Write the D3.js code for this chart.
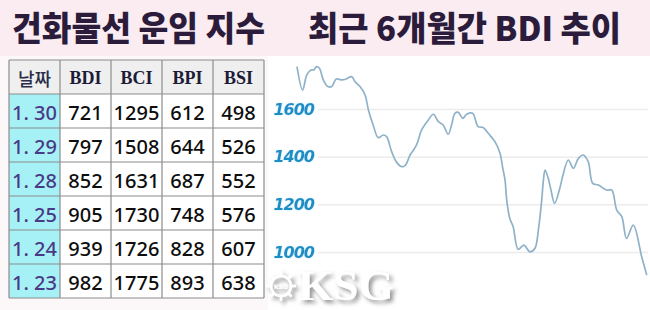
<!DOCTYPE html>
<html>
<head>
<meta charset="utf-8">
<script src="https://cdn.jsdelivr.net/npm/d3@7"></script>
<style>
  html, body { margin:0; padding:0; background:#fcf7f9; }
  svg { display:block; }
</style>
</head>
<body>
<div id="chart-area"></div>
<script>
// table data
var headers = ["날짜", "BDI", "BCI", "BPI", "BSI"];
var dates = ["1. 30", "1. 29", "1. 28", "1. 25", "1. 24", "1. 23"];
var bdi = [721, 797, 852, 905, 939, 982];
var bci = [1295, 1508, 1631, 1730, 1726, 1775];
var bpi = [612, 644, 687, 748, 828, 893];
var bsi = [498, 526, 552, 576, 607, 638];

// BDI trend, last 6 months (trading day index, value)
var bdiDays = [0, 2, 3.5, 5, 6, 7, 8, 9.4, 11, 12.4, 14, 16, 17.6, 19.5, 20.7, 22.5, 24.3, 25.5, 27.2, 29,
  30.8, 32, 33.8, 35.6, 37.4, 38.6, 40.4, 42.7, 44.5, 46.9, 48.7, 50.5, 52.2, 54, 55.2, 56.4, 57.6, 59.2,
  60.6, 62.7, 64.7, 66.5, 68.3, 70.7, 72.5, 73.5, 74.3, 74.9, 76, 77.2, 79, 81, 83.2, 85, 86.2, 87.4, 88,
  88.6, 89.7, 90.7, 92, 94, 95, 96.9, 98.7, 100.5, 102.2, 104, 105.6, 107.6, 110.6, 112.4, 114.2, 116,
  117.7, 120.1, 123.1, 124.9];
var bdiValues = [1778, 1680, 1743, 1764, 1764, 1778, 1771, 1722, 1694, 1694, 1726, 1722, 1726, 1736, 1715, 1694, 1659, 1596, 1533, 1480,
  1491, 1484, 1421, 1376, 1358, 1362, 1407, 1449, 1512, 1554, 1578, 1547, 1533, 1494, 1533, 1582, 1586, 1561,
  1578, 1582, 1526, 1522, 1498, 1463, 1414, 1351, 1302, 1218, 1141, 1106, 1011, 1029, 1001, 1016, 1092, 1218, 1302,
  1344, 1310, 1260, 1204, 1274, 1323, 1386, 1351, 1393, 1407, 1379, 1288, 1281, 1260, 1260, 1176, 1148,
  1057, 1113, 980, 903];
var yTicks = [1000, 1200, 1400, 1600];

var titleLeft = "건화물선 운임 지수";
var titleRight = "최근 6개월간 BDI 추이";

var width = 650, height = 310;

var svg = d3.select("#chart-area")
  .append("svg")
    .attr("width", width)
    .attr("height", height);

var defs = svg.append("defs");
defs.append("filter").attr("id", "shadow")
    .attr("x", "-20%").attr("y", "-30%").attr("width", "150%").attr("height", "170%")
  .append("feDropShadow")
    .attr("dx", 3).attr("dy", 3).attr("stdDeviation", 2)
    .attr("flood-color", "#666").attr("flood-opacity", 0.7);
defs.append("filter").attr("id", "glow")
  .append("feDropShadow")
    .attr("dx", 0).attr("dy", 0).attr("stdDeviation", 1.2)
    .attr("flood-color", "#bfe9ff").attr("flood-opacity", 0.9);
defs.append("clipPath").attr("id", "plotclip")
  .append("rect")
    .attr("x", 268).attr("y", 56).attr("width", 382).attr("height", 254);

// backgrounds
svg.append("rect")
    .attr("width", width).attr("height", 56)
    .attr("fill", "#fbecf2");
svg.append("rect")
    .attr("x", 268).attr("y", 56).attr("width", 382).attr("height", 254)
    .attr("fill", "#ffffff");

// titles
svg.append("text")
    .attr("x", 12).attr("y", 41)
    .attr("textLength", 253)
    .attr("lengthAdjust", "spacingAndGlyphs")
    .attr("font-family", "Noto Sans CJK KR")
    .attr("font-weight", 900)
    .attr("font-size", "34px")
    .attr("fill", "#2b1c3b")
    .text(titleLeft);
svg.append("text")
    .attr("x", 308).attr("y", 41)
    .attr("textLength", 313)
    .attr("lengthAdjust", "spacingAndGlyphs")
    .attr("font-family", "Noto Sans CJK KR")
    .attr("font-weight", 900)
    .attr("font-size", "34px")
    .attr("fill", "#2b1c3b")
    .text(titleRight);

// ---- line chart ----
var x = d3.scaleLinear()
    .domain([0, 125])
    .range([297, 647]);
var y = d3.scaleLinear()
    .domain([1000, 1600])
    .range([252, 109]);

var yAxisCall = d3.axisLeft(y)
    .tickValues(yTicks)
    .tickSize(-(648 - 318))
    .tickPadding(4)
    .tickFormat(function(d){ return d; });

var yAxis = svg.append("g")
    .attr("class", "y axis")
    .attr("transform", "translate(318,0)")
    .call(yAxisCall);
yAxis.select(".domain").remove();
yAxis.selectAll("line")
    .attr("stroke", "#ececec")
    .attr("stroke-width", 1.5);
yAxis.selectAll("text")
    .attr("font-family", "DejaVu Sans")
    .attr("font-weight", "bold")
    .attr("font-style", "italic")
    .attr("font-size", "16px")
    .attr("letter-spacing", "-1px")
    .attr("fill", "#1b8ec6")
    .attr("filter", "url(#glow)");

var points = bdiDays.map(function(d, i){ return [d, bdiValues[i]]; });

var line = d3.line()
    .x(function(d){ return x(d[0]); })
    .y(function(d){ return y(d[1]); })
    .curve(d3.curveCatmullRom.alpha(0.5));

svg.append("path")
    .datum(points)
    .attr("clip-path", "url(#plotclip)")
    .attr("fill", "none")
    .attr("stroke", "#8fb2c9")
    .attr("stroke-width", 1.7)
    .attr("d", line);

// watermark
var wm = svg.append("g").attr("filter", "url(#shadow)");
var wheel = wm.append("g").attr("transform", "translate(281,286)");
d3.range(8).forEach(function(i){
  var a = i * Math.PI / 4;
  wheel.append("line")
      .attr("x1", Math.cos(a) * 9).attr("y1", Math.sin(a) * 9)
      .attr("x2", Math.cos(a) * 15).attr("y2", Math.sin(a) * 15)
      .attr("stroke", "#fff").attr("stroke-width", 2.5);
});
wheel.append("circle").attr("r", 10)
    .attr("fill", "none").attr("stroke", "#fff").attr("stroke-width", 2.5);
wheel.append("text")
    .attr("text-anchor", "middle").attr("y", 2.5)
    .attr("font-family", "DejaVu Sans").attr("font-weight", "bold")
    .attr("font-size", "6px").attr("fill", "#fff")
    .text("KSG");
wm.append("text")
    .attr("x", 298).attr("y", 300)
    .attr("textLength", 96)
    .attr("lengthAdjust", "spacingAndGlyphs")
    .attr("font-family", "Liberation Serif")
    .attr("font-weight", "bold")
    .attr("font-size", "42px")
    .attr("fill", "#ffffff")
    .text("KSG");

// ---- table ----
var rowKeys = ["head"].concat(dates);
var cols = d3.scaleBand()
    .domain(headers)
    .range([9, 264]);
var rows = d3.scaleBand()
    .domain(rowKeys)
    .range([60, 298]);

var tableRows = dates.map(function(d, i){
  return [d, bdi[i], bci[i], bpi[i], bsi[i]];
});

var table = svg.append("g").attr("class", "table");

// header
headers.forEach(function(h, j){
  table.append("rect")
      .attr("x", cols(h)).attr("y", rows("head"))
      .attr("width", cols.bandwidth()).attr("height", rows.bandwidth())
      .attr("fill", "#efefef");
  table.append("text")
      .attr("x", cols(h) + cols.bandwidth() / 2)
      .attr("y", rows("head") + rows.bandwidth() / 2 + 1)
      .attr("text-anchor", "middle")
      .attr("dominant-baseline", "central")
      .attr("font-family", j === 0 ? "Noto Sans CJK KR" : "Liberation Serif")
      .attr("font-weight", j === 0 ? 500 : "bold")
      .attr("font-size", j === 0 ? "18px" : "18px")
      .attr("fill", j === 0 ? "#2a2d4a" : "#1c1c38")
      .text(h);
});

tableRows.forEach(function(r){
  r.forEach(function(v, j){
    var h = headers[j];
    table.append("rect")
        .attr("x", cols(h)).attr("y", rows(r[0]))
        .attr("width", cols.bandwidth()).attr("height", rows.bandwidth())
        .attr("fill", j === 0 ? "#a6f1f6" : "#ffffff");
    table.append("text")
        .attr("x", cols(h) + cols.bandwidth() / 2)
        .attr("y", rows(r[0]) + rows.bandwidth() / 2 + 1)
        .attr("text-anchor", "middle")
        .attr("dominant-baseline", "central")
        .attr("font-family", "Noto Sans")
        .attr("font-weight", j === 0 ? 500 : 500)
        .attr("font-size", "20px")
        .attr("fill", j === 0 ? "#4a3a86" : "#0d0d0d")
        .text(v);
  });
});

// grid lines of the table
table.selectAll(".vline").data(headers.concat(["end"]))
  .enter().append("line")
    .attr("x1", function(d){ return d === "end" ? 264 : cols(d); })
    .attr("x2", function(d){ return d === "end" ? 264 : cols(d); })
    .attr("y1", 60).attr("y2", 298)
    .attr("stroke", "#8c8c8c").attr("stroke-width", 1.2);
table.selectAll(".hline").data(rowKeys.concat(["end"]))
  .enter().append("line")
    .attr("x1", 9).attr("x2", 264)
    .attr("y1", function(d){ return d === "end" ? 298 : rows(d); })
    .attr("y2", function(d){ return d === "end" ? 298 : rows(d); })
    .attr("stroke", "#8c8c8c").attr("stroke-width", 1.2);
</script>
</body>
</html>
